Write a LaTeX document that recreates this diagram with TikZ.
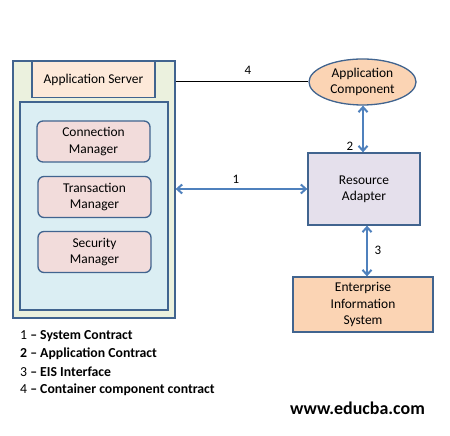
\documentclass[tikz,border=0pt]{standalone}
\usepackage{fontspec}
\setmainfont{Carlito}
\usetikzlibrary{shapes.geometric,arrows.meta}
\definecolor{bordc}{HTML}{41648F}
\definecolor{arrc}{HTML}{4F81BD}
\definecolor{outerfill}{HTML}{EBF1DE}
\definecolor{asfill}{HTML}{FDE9D9}
\definecolor{innerfill}{HTML}{DBEEF3}
\definecolor{mgrfill}{HTML}{F2DCDB}
\definecolor{peach}{HTML}{FBD4B4}
\definecolor{rafill}{HTML}{E5E0EC}
\tikzset{
  box/.style={draw=bordc, line width=1.3bp, inner sep=0pt, align=center, font=\fontsize{13.5}{16.5}\selectfont},
  mgr/.style={box, fill=mgrfill, rounded corners=6bp, minimum width=113bp, minimum height=41bp},
  dblarrow/.style={draw=arrc, line width=2bp, {Straight Barb[length=5bp,width=9bp]}-{Straight Barb[length=5bp,width=9bp]}},
  lbl/.style={font=\fontsize{13}{15}\selectfont, inner sep=0pt},
  legend/.style={font=\fontsize{13.8}{15}\selectfont, anchor=west, inner sep=0pt}
}
\begin{document}
\begin{tikzpicture}[x=1bp,y=-1bp]
\useasboundingbox (0,0) rectangle (450,436);
\fill[white] (0,0) rectangle (450,436);
\node[box, fill=outerfill, minimum width=162bp, minimum height=257bp] (outer) at (94,189.5) {};
\node[box, fill=asfill, minimum width=123bp, minimum height=36bp] (as) at (93.5,79.5) {Application Server};
\node[box, fill=innerfill, minimum width=148bp, minimum height=208bp] (inner) at (94,206) {};
\node[mgr] (cm) at (93.5,141.5) {Connection\\Manager};
\node[mgr] (tm) at (94.5,197) {Transaction\\Manager};
\node[mgr] (sm) at (94.5,252) {Security\\Manager};
\node[box, ellipse, fill=peach, minimum width=107bp, minimum height=46bp] (comp) at (362.5,82) {Application\\Component};
\node[box, fill=rafill, minimum width=112bp, minimum height=72bp] (ra) at (364,189) {Resource\\Adapter};
\node[box, fill=peach, minimum width=140bp, minimum height=55bp] (eis) at (363,304.5) {Enterprise\\Information\\System};
\coordinate (c4) at (outer.east |- comp.west);
\draw[black, line width=1bp] (c4) -- (comp.west);
\node[lbl] (l4) at (248,70) {4};
\draw[dblarrow] (outer.east |- ra.west) -- (ra.west);
\node[lbl] (l1) at (236,179) {1};
\draw[dblarrow] (comp.south -| 363,0) -- (ra.north -| 363,0);
\node[lbl] (l2) at (350,146) {2};
\coordinate (r3) at (367,225);
\draw[dblarrow] (ra.south -| r3) -- (eis.north -| r3);
\node[lbl] (l3) at (378,250) {3};
\node[legend] (g1) at (20,336) {1 \textbf{– System Contract}};
\node[legend] (g2) at (20,354) {\textbf{2 – Application Contract}};
\node[legend] (g3) at (20,372) {3 \textbf{– EIS Interface}};
\node[legend] (g4) at (20,390) {4 \textbf{– Container component contract}};
\node[font=\fontsize{18}{20}\selectfont\bfseries, inner sep=0pt] (web) at (357.5,408) {www.educba.com};
\end{tikzpicture}
\end{document}
